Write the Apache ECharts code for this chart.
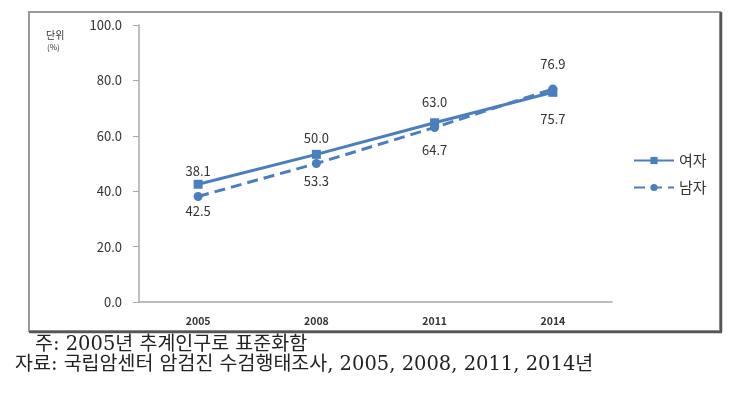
<!DOCTYPE html>
<html>
<head>
<meta charset="utf-8">
<script src="https://cdn.jsdelivr.net/npm/echarts@6/dist/echarts.min.js"></script>
<style>html,body{margin:0;padding:0;background:#fff;}#c{width:732px;height:394px;}</style>
</head>
<body>
<div id="c"></div>
<script>
const categories = ['2005', '2008', '2011', '2014'];
const womenValues = [42.5, 53.3, 64.7, 75.7];
const menValues = [38.1, 50.0, 63.0, 76.9];
const seriesNames = ['여자', '남자'];
const yTicks = [0, 20, 40, 60, 80, 100];
const unitLabel = '단위';
const unitSub = '(%)';
const note1 = '주: 2005년 추계인구로 표준화함';
const note2 = '자료: 국립암센터 암검진 수검행태조사, 2005, 2008, 2011, 2014년';

const blue = '#4a7ebf';
const font = '"Noto Sans CJK KR", "Noto Sans", sans-serif';
const noteFont = '"DejaVu Serif", "Noto Sans CJK KR", serif';
const chart = echarts.init(document.getElementById('c'), null, {renderer: 'canvas'});
chart.setOption({
  animation: false,
  backgroundColor: '#fff',
  textStyle: {fontFamily: font},
  grid: {left: 139, right: 120, top: 25, bottom: 92},
  xAxis: {
    type: 'category',
    data: categories,
    boundaryGap: true,
    axisLine: {lineStyle: {color: '#a8a8a8', width: 1.5}},
    axisTick: {show: false},
    axisLabel: {color: '#333', fontSize: 10.5, fontWeight: 'bold', margin: 14, fontFamily: font}
  },
  yAxis: {
    type: 'value',
    min: yTicks[0],
    max: yTicks[yTicks.length - 1],
    interval: 20,
    axisLine: {show: true, lineStyle: {color: '#a8a8a8', width: 1.5}},
    axisTick: {show: true, length: 6, lineStyle: {color: '#a8a8a8'}},
    splitLine: {show: false},
    axisLabel: {color: '#333', fontSize: 13, margin: 17, fontFamily: font,
      formatter: v => v.toFixed(1)}
  },
  legend: {
    orient: 'vertical',
    left: 628,
    top: 148,
    itemWidth: 40,
    itemHeight: 9,
    itemGap: 12,
    textStyle: {color: '#333', fontSize: 15, fontFamily: font},
    data: seriesNames
  },
  series: [
    {
      name: seriesNames[0],
      type: 'line',
      data: womenValues,
      symbol: 'rect',
      symbolSize: 9,
      color: blue,
      lineStyle: {color: blue, width: 3},
      itemStyle: {color: blue},
      label: {show: true, position: 'bottom', distance: 16, color: '#333', fontSize: 13,
        formatter: p => p.value.toFixed(1)}
    },
    {
      name: seriesNames[1],
      type: 'line',
      data: menValues,
      symbol: 'circle',
      symbolSize: 9,
      color: blue,
      lineStyle: {color: blue, width: 3, type: [11, 6]},
      itemStyle: {color: blue},
      label: {show: true, position: 'top', distance: 14, color: '#333', fontSize: 13,
        formatter: p => p.value.toFixed(1)}
    }
  ],
  graphic: [
    {type: 'rect', shape: {x: 29, y: 12, width: 691, height: 319}, style: {fill: 'none', stroke: '#9a9a9a', lineWidth: 2}, silent: true},
    {type: 'line', shape: {x1: 721, y1: 12, x2: 721, y2: 332}, style: {stroke: '#555', lineWidth: 2.5}, silent: true},
    {type: 'line', shape: {x1: 29, y1: 332, x2: 722, y2: 332}, style: {stroke: '#555', lineWidth: 2.5}, silent: true},
    {type: 'text', left: 46, top: 30, style: {text: unitLabel, fontSize: 10, fill: '#333', fontFamily: font}},
    {type: 'text', left: 47, top: 43, style: {text: unitSub, fontSize: 8, fill: '#333', fontFamily: font}},
    {type: 'text', left: 35, top: 335, style: {text: note1, fontSize: 19.5, fill: '#222', fontFamily: noteFont}},
    {type: 'text', left: 15, top: 355, style: {text: note2, fontSize: 19.5, fill: '#222', fontFamily: noteFont}}
  ]
});
</script>
</body>
</html>
